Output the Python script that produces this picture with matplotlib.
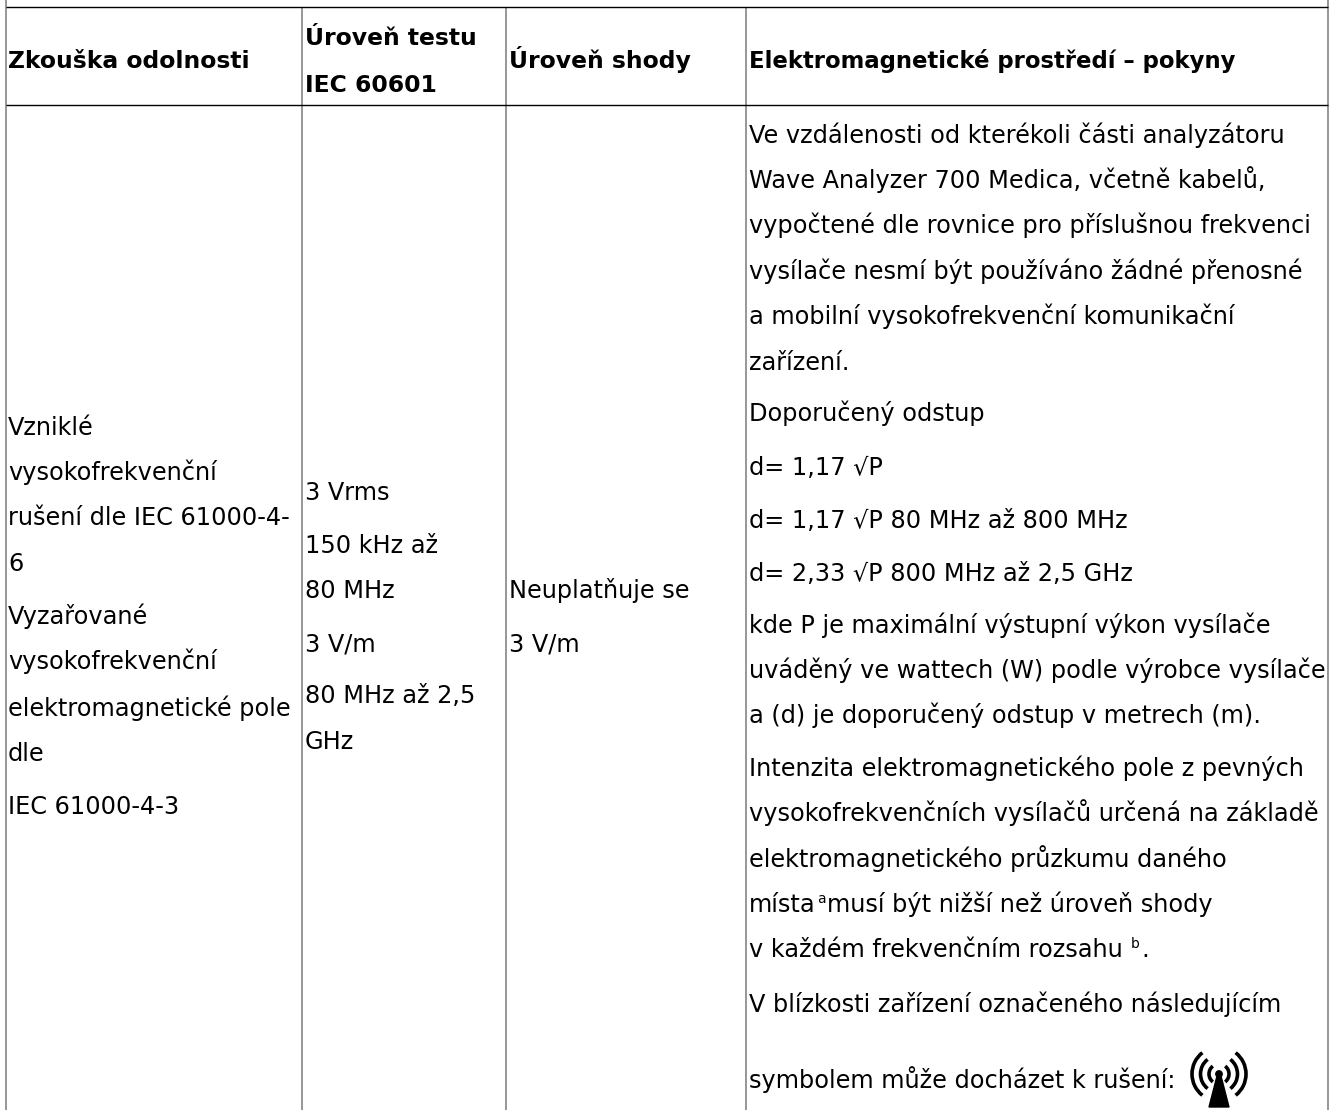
import matplotlib
matplotlib.use("Agg")
import matplotlib.pyplot as plt
from matplotlib.patches import Polygon, Arc, Circle

W, H = 1334, 1110
FONT = "DejaVu Sans"
FS = 17.25
FS_B = 16.9

col_x = [5.5, 301.5, 505.5, 745.5, 1327.5]
row_y = [7, 104.5]

headers = ["Zkouška odolnosti", "Úroveň testu", "IEC 60601", "Úroveň shody",
           "Elektromagnetické prostředí – pokyny"]
header_x = [8, 305, 305, 509, 749]
header_y = [68, 45, 92, 68, 68]
header_fs = [FS_B, FS_B, FS_B, FS_B, 16.35]

col1 = ["Vzniklé", "vysokofrekvenční", "rušení dle IEC 61000-4-", "6", "Vyzařované",
        "vysokofrekvenční", "elektromagnetické pole", "dle", "IEC 61000-4-3"]
col1_y = [435, 480, 525, 571, 624, 669, 716, 761, 814]

col2 = ["3 Vrms", "150 kHz až", "80 MHz", "3 V/m", "80 MHz až 2,5", "GHz"]
col2_y = [500, 553, 598, 652, 703, 749]

col3 = ["Neuplatňuje se", "3 V/m"]
col3_y = [598, 652]

col4 = ["Ve vzdálenosti od kterékoli části analyzátoru",
        "Wave Analyzer 700 Medica, včetně kabelů,",
        "vypočtené dle rovnice pro příslušnou frekvenci",
        "vysílače nesmí být používáno žádné přenosné",
        "a mobilní vysokofrekvenční komunikační",
        "zařízení.",
        "Doporučený odstup",
        "d= 1,17 √P",
        "d= 1,17 √P 80 MHz až 800 MHz",
        "d= 2,33 √P 800 MHz až 2,5 GHz",
        "kde P je maximální výstupní výkon vysílače",
        "uváděný ve wattech (W) podle výrobce vysílače",
        "a (d) je doporučený odstup v metrech (m).",
        "Intenzita elektromagnetického pole z pevných",
        "vysokofrekvenčních vysílačů určená na základě",
        "elektromagnetického průzkumu daného"]
col4_y = [143, 188, 233, 279, 324, 370, 421, 475, 528, 581, 633, 678, 723, 776, 821, 867]

sup_lines = [("místa", "a", "musí být nižší než úroveň shody"),
             ("v každém frekvenčním rozsahu", "b", ".")]
sup_y = [912, 957]
sup_gap = [1, 8]

col4_tail = ["V blízkosti zařízení označeného následujícím", "symbolem může docházet k rušení:"]
col4_tail_y = [1012, 1088]

fig = plt.figure(figsize=(W / 100, H / 100), dpi=100, facecolor="white")
ax = fig.add_axes([0, 0, 1, 1])
ax.set_xlim(0, W)
ax.set_ylim(H, 0)
ax.axis("off")

for x in col_x:
    top = 0 if x == col_x[0] or x == col_x[-1] else row_y[0]
    ax.plot([x, x], [top, H], color="#7a7a7a", lw=1.1, solid_capstyle="butt")
for y in row_y:
    ax.plot([col_x[0], col_x[-1]], [y, y], color="black", lw=1.0, solid_capstyle="butt")

for t, x, y, fs in zip(headers, header_x, header_y, header_fs):
    ax.text(x, y, t, fontsize=fs, fontweight="bold", family=FONT, va="baseline", color="black")
for lines, ys, x in [(col1, col1_y, 8), (col2, col2_y, 305), (col3, col3_y, 509),
                     (col4, col4_y, 749), (col4_tail, col4_tail_y, 749)]:
    for t, y in zip(lines, ys):
        ax.text(x, y, t, fontsize=FS, family=FONT, va="baseline", color="black")

renderer = fig.canvas.get_renderer()
for (a, s, b), y, gap in zip(sup_lines, sup_y, sup_gap):
    t1 = ax.text(749, y, a, fontsize=FS, family=FONT, va="baseline", color="black")
    x1 = t1.get_window_extent(renderer).x1 + gap
    t2 = ax.text(x1, y - 9, s, fontsize=10, family=FONT, va="baseline", color="black")
    x2 = t2.get_window_extent(renderer).x1 + 2
    ax.text(x2, y, b, fontsize=FS, family=FONT, va="baseline", color="black")

# non-ionising radiation symbol
cx, cy = 1219, 1074
ax.add_patch(Polygon([[cx - 2, cy + 2], [cx + 2, cy + 2], [cx + 10, cy + 33], [cx - 10, cy + 33]], color="black"))
ax.add_patch(Circle((cx, cy), 3.2, color="black"))
for r in (10, 18.5, 27):
    ax.add_patch(Arc((cx, cy), 2 * r, 2 * r, theta1=-52, theta2=52, lw=2.6, color="black"))
    ax.add_patch(Arc((cx, cy), 2 * r, 2 * r, theta1=128, theta2=232, lw=2.6, color="black"))

fig.savefig("out.png", dpi=100)
